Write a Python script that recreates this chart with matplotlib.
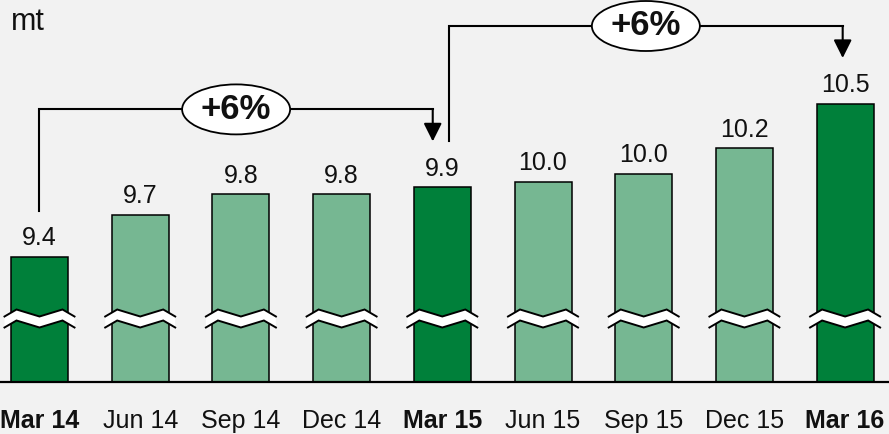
"""Quarterly volume bar chart with broken axis and growth brackets."""
import matplotlib
matplotlib.use("Agg")
import matplotlib.pyplot as plt
from matplotlib.patches import Ellipse, Polygon

plt.rcParams["font.family"] = ["Liberation Sans", "DejaVu Sans"]

# data
quarters = ["Mar 14", "Jun 14", "Sep 14", "Dec 14", "Mar 15",
            "Jun 15", "Sep 15", "Dec 15", "Mar 16"]
values = [9.4, 9.7, 9.85, 9.85, 9.9, 9.94, 10.0, 10.18, 10.5]
value_labels = ["9.4", "9.7", "9.8", "9.8", "9.9", "10.0", "10.0", "10.2", "10.5"]
highlight = [True, False, False, False, True, False, False, False, True]
growth = [(0, 4, "+6%"), (4, 8, "+6%")]

DARK = "#00803a"
LIGHT = "#76b792"
BG = "#f2f2f2"

# pixel scale of the axes (px per data unit)
PX_X = 100.7
PX_Y = 139.0
Y0 = 8.5

fig = plt.figure(figsize=(8.89, 4.34), dpi=100, facecolor=BG)
ax = fig.add_axes([0, 52 / 434, 1, 382 / 434])
ax.set_facecolor(BG)
ax.set_xlim(-39.5 / PX_X, (889 - 39.5) / PX_X)
ax.set_ylim(Y0, Y0 + 382 / PX_Y)

x = list(range(len(quarters)))
colors = [DARK if h else LIGHT for h in highlight]
ax.bar(x, values, width=57 / PX_X, color=colors, edgecolor="black",
       linewidth=1.1, zorder=2)

for xi, v, lab in zip(x, values, value_labels):
    ax.annotate(lab, (xi, v), xytext=(0, 8.5), textcoords="offset points",
                ha="center", va="baseline", fontsize=18, color="#111111")

# axis break marks
brk = Y0 + (382 - 318.5) / PX_Y
zig_dx = [-35, -23, 0, 23, 35]
zig_dy = [-3.5, 3.5, -3.5, 3.5, -3.5]
half = 5.5
for xi in x:
    xs = [xi + d / PX_X for d in zig_dx]
    top = [brk + (d + half) / PX_Y for d in zig_dy]
    bot = [brk + (d - half) / PX_Y for d in zig_dy]
    poly = list(zip(xs, top)) + list(zip(xs[::-1], bot[::-1]))
    ax.add_patch(Polygon(poly, closed=True, facecolor="white",
                         edgecolor="none", zorder=3))
    ax.plot(xs, top, color="black", lw=1.4, zorder=4, solid_joinstyle="miter")
    ax.plot(xs, bot, color="black", lw=1.4, zorder=4, solid_joinstyle="miter")

# growth brackets
gap = 46 / PX_Y
rise = 32 / PX_Y
for a, b, txt in growth:
    xa = a + (0.0 if a == 0 else 0.067)
    xb = b - (0.095 if b == 4 else 0.024)
    ya = values[a] + gap
    tip = values[b] + gap
    level = tip + rise
    ax.plot([xa, xa, xb], [ya, level, level], color="black", lw=1.5,
            zorder=3, solid_joinstyle="miter")
    ax.annotate("", xy=(xb, tip), xytext=(xb, level),
                arrowprops=dict(arrowstyle="-|>,head_length=1.1,head_width=0.55",
                                color="black", lw=1.5, shrinkA=0, shrinkB=0),
                zorder=3)
    xm = (xa + xb) / 2
    ax.add_patch(Ellipse((xm, level), 108 / PX_X, 50 / PX_Y, facecolor="white",
                         edgecolor="black", lw=1.3, zorder=5))
    ax.text(xm, level, txt, ha="center", va="center", fontsize=25,
            fontweight="bold", color="#111111", zorder=6)

for s in ["top", "right", "left"]:
    ax.spines[s].set_visible(False)
ax.spines["bottom"].set_linewidth(1.6)
ax.set_yticks([])
ax.set_xticks(x, quarters)
ax.tick_params(axis="x", length=0, pad=19.5, labelsize=18, labelcolor="#111111")
for lbl, h in zip(ax.get_xticklabels(), highlight):
    if h:
        lbl.set_fontweight("bold")

fig.text(11 / 889, 1 - 30 / 434, "mt", ha="left", va="baseline",
         fontsize=22, color="#111111")

fig.savefig("out.png", dpi=100, facecolor=BG)
